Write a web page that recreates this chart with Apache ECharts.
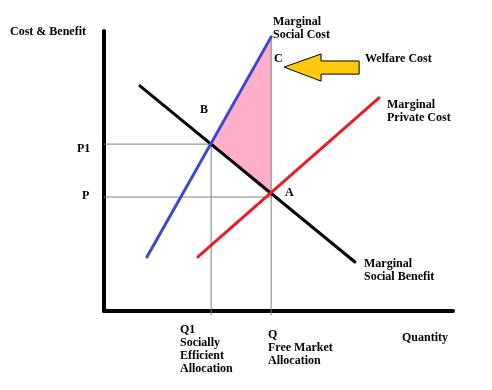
<!DOCTYPE html>
<html><head><meta charset="utf-8">
<script src="https://cdn.jsdelivr.net/npm/echarts@6/dist/echarts.min.js"></script>
<style>html,body{margin:0;padding:0;background:#fff}#c{width:492px;height:390px}</style>
</head><body><div id="c"></div>
<script>
// Key economic values (data units)
const Q1 = 3.07, Q = 4.79;      // quantities
const P1 = 5.96, P = 4.07;      // prices
const topMSC = 9.79;            // MSC value at Q (point C)
const belowAxis = -0.14;
// Curves
const mscLine = [[1.23, 1.93], [Q, topMSC]];
const mpcLine = [[2.69, 1.93], [7.88, 7.61]];
const msbLine = [[1.03, 8.04], [7.19, 1.75]];
// Welfare-cost triangle B, C, A
const welfareTriangle = [[Q1, P1], [Q, topMSC], [Q, P]];
// Arrow outline
const arrowShape = [[5.16, 8.71], [6.22, 9.18], [6.22, 8.93], [7.31, 8.93], [7.31, 8.46], [6.22, 8.46], [6.22, 8.21]];

const chart = echarts.init(document.getElementById('c'), null, {renderer: 'canvas'});
const F = 'bold 12px "Liberation Serif", "DejaVu Serif", serif';
function txt(text, x, y) {
  return {type: 'text', style: {text: text, x: x, y: y, font: F, fill: '#000', lineHeight: 13, verticalAlign: 'top', textAlign: 'left'}, z: 100};
}
function seg(data, color, width) {
  return {type: 'line', data: data, symbol: 'none', clip: false, silent: true,
    lineStyle: {color: color, width: width, cap: 'round'}, z: 5};
}
function poly(points, fill, stroke, z) {
  return {type: 'custom', coordinateSystem: 'cartesian2d', silent: true, clip: false, z: z, data: [[0, 0]],
    renderItem: function (params, api) {
      return {type: 'polygon', shape: {points: points.map(p => api.coord(p))},
        style: {fill: fill, stroke: stroke || null, lineWidth: stroke ? 1 : 0}};
    }};
}
chart.setOption({
  animation: false,
  grid: {left: 104, top: 31, width: 349, height: 280, containLabel: false},
  xAxis: {type: 'value', min: 0, max: 10, axisLine: {lineStyle: {color: '#000', width: 4, cap: 'round'}},
    axisTick: {show: false}, axisLabel: {show: false}, splitLine: {show: false}},
  yAxis: {type: 'value', min: 0, max: 10, axisLine: {show: true, lineStyle: {color: '#000', width: 4, cap: 'round'}},
    axisTick: {show: false}, axisLabel: {show: false}, splitLine: {show: false}},
  series: [
    poly(welfareTriangle, '#ffaec9', null, 1),
    Object.assign(seg([[0, P1], [Q1, P1]], '#808080', 1), {z: 2}),
    Object.assign(seg([[Q1, P1], [Q1, belowAxis]], '#808080', 1), {z: 2}),
    Object.assign(seg([[0, P], [Q, P]], '#808080', 1), {z: 2}),
    Object.assign(seg([[Q, topMSC], [Q, belowAxis]], '#808080', 1), {z: 2}),
    seg(msbLine, '#000000', 3),
    seg(mpcLine, '#ed1c24', 3),
    seg(mscLine, '#3f48cc', 3),
    poly(arrowShape, '#ffc90e', '#000', 6)
  ],
  graphic: [
    txt('Cost & Benefit', 10, 25.5),
    txt('B', 200, 103.5),
    txt('Marginal\nSocial Cost', 273, 15.5),
    txt('C', 274, 52.5),
    txt('Welfare Cost', 365, 52.5),
    txt('Marginal\nPrivate Cost', 387, 98.5),
    txt('P1', 77, 142.5),
    txt('P', 82, 189.5),
    txt('A', 285, 186.5),
    txt('Marginal\nSocial Benefit', 364, 257.5),
    txt('Q1\nSocially\nEfficient\nAllocation', 180, 323.5),
    txt('Q\nFree Market\nAllocation', 268, 328.5),
    txt('Quantity', 402, 331.5)
  ]
});
</script></body></html>
